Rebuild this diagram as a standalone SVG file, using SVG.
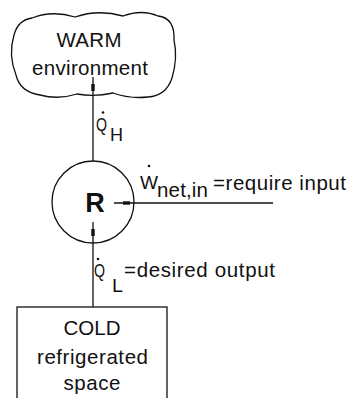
<svg xmlns="http://www.w3.org/2000/svg" width="348" height="398" viewBox="0 0 348 398">
<style>
.t{font-family:"Liberation Sans",Arial,sans-serif;font-size:20.5px;fill:#111}
.q{font-size:19px}
.c{text-anchor:middle}
.s{fill:none;stroke:#111;stroke-width:1.3}
.ln{stroke:#111;stroke-width:1.3;fill:none}
.hd{fill:#111}
</style>
<rect width="348" height="398" fill="#fff"/>
<g id="warm">
<path class="s" d="M32,18 Q52,10 75,17 Q98,9 123,16 Q142,9 158,16 Q175,18 174,40 Q178,58 172,78 Q166,96 148,97 Q130,99 113,93 Q95,97 77,94 Q58,100 40,95 Q20,92 16,75 Q8,55 14,35 Q18,20 32,18 Z"/>
<text class="t c" x="89" y="47" textLength="65" lengthAdjust="spacing">WARM</text>
<text class="t c" x="90" y="75" textLength="116" lengthAdjust="spacing">environment</text>
</g>
<g id="R">
<circle class="s" cx="93" cy="202" r="41"/>
<text x="95" y="212" text-anchor="middle" style="font-family:'Liberation Sans',Arial,sans-serif;font-size:27px;font-weight:bold;fill:#111">R</text>
</g>
<g id="cold">
<rect class="s" x="17" y="307" width="150" height="100"/>
<text class="t c" x="92" y="335" textLength="57" lengthAdjust="spacing">COLD</text>
<text class="t c" x="92.5" y="364" textLength="111" lengthAdjust="spacing">refrigerated</text>
<text class="t c" x="92" y="390" textLength="57" lengthAdjust="spacing">space</text>
</g>
<g id="connectors">
<line class="ln" x1="93" y1="77" x2="93" y2="161"/>
<rect class="hd" x="91.3" y="84" width="3.4" height="7"/>
<line class="ln" x1="114" y1="203" x2="273" y2="203"/>
<rect class="hd" x="123" y="201.3" width="7" height="3.4"/>
<line class="ln" x1="93" y1="222" x2="93" y2="307"/>
<rect class="hd" x="91.3" y="229" width="3.4" height="7"/>
</g>
<g id="labels">
<circle class="hd" cx="103" cy="112.5" r="1.3"/>
<text class="t q" x="96" y="131" textLength="11" lengthAdjust="spacingAndGlyphs">Q</text>
<text class="t q" x="110" y="141" textLength="13" lengthAdjust="spacingAndGlyphs">H</text>
<circle class="hd" cx="149" cy="166" r="1.3"/>
<text class="t q" x="140" y="189" textLength="18" lengthAdjust="spacingAndGlyphs">W</text>
<text class="t" x="157" y="197" textLength="51" lengthAdjust="spacing">net,in</text>
<text class="t" x="213" y="190" textLength="133" lengthAdjust="spacing">=require input</text>
<circle class="hd" cx="98" cy="259" r="1.3"/>
<text class="t q" x="94" y="277" textLength="11" lengthAdjust="spacingAndGlyphs">Q</text>
<text class="t q" x="112" y="292" textLength="11" lengthAdjust="spacingAndGlyphs">L</text>
<text class="t" x="124" y="277" textLength="151" lengthAdjust="spacing">=desired output</text>
</g>
</svg>
